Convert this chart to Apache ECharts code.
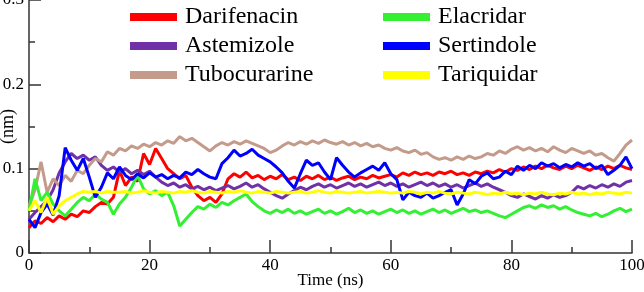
<!DOCTYPE html>
<html>
<head>
<meta charset="utf-8">
<script src="https://cdn.jsdelivr.net/npm/echarts@6/dist/echarts.min.js"></script>
<style>
  html, body { margin: 0; padding: 0; background: #fff; }
  #chart { width: 644px; height: 292px; }
</style>
</head>
<body>
<div id="chart"></div>
<script>
  // sample times, one every ns
  const timeNs = Array.from({ length: 101 }, (_, i) => i);

  const darifenacin = [
    0.030, 0.038, 0.035, 0.042, 0.037, 0.044, 0.040, 0.046, 0.043, 0.050,
    0.048, 0.055, 0.060, 0.058, 0.066, 0.098, 0.080, 0.090, 0.085, 0.118,
    0.105, 0.124, 0.112, 0.100, 0.094, 0.088, 0.092, 0.078, 0.068, 0.062,
    0.066, 0.060, 0.070, 0.088, 0.094, 0.090, 0.096, 0.089, 0.092, 0.087,
    0.091, 0.088, 0.093, 0.087, 0.090, 0.086, 0.091, 0.088, 0.092, 0.087,
    0.090, 0.086, 0.089, 0.091, 0.087, 0.090, 0.088, 0.092, 0.089, 0.091,
    0.093, 0.090, 0.095, 0.092, 0.096, 0.093, 0.095, 0.092, 0.096, 0.094,
    0.097, 0.093, 0.095, 0.092, 0.096, 0.094, 0.097, 0.095, 0.099, 0.096,
    0.100, 0.098, 0.102, 0.099, 0.103, 0.100, 0.104, 0.101, 0.099, 0.103,
    0.100, 0.104, 0.101, 0.098, 0.102, 0.099, 0.103, 0.100, 0.104, 0.101,
    0.099
  ];
  const astemizole = [
    0.040, 0.048, 0.055, 0.062, 0.075, 0.095, 0.108, 0.118, 0.112, 0.116,
    0.110, 0.114, 0.104, 0.098, 0.102, 0.096, 0.100, 0.094, 0.098, 0.093,
    0.097, 0.090, 0.084, 0.080, 0.083, 0.078, 0.081, 0.076, 0.079, 0.075,
    0.078, 0.074, 0.077, 0.080, 0.076, 0.079, 0.083, 0.078, 0.081, 0.076,
    0.072, 0.068, 0.065, 0.070, 0.074, 0.078, 0.075, 0.079, 0.082, 0.078,
    0.081, 0.077, 0.080, 0.083, 0.079, 0.082, 0.078, 0.081, 0.084, 0.080,
    0.083, 0.079, 0.082, 0.078, 0.081, 0.084, 0.080, 0.083, 0.079, 0.082,
    0.078, 0.081, 0.077, 0.080, 0.083, 0.079, 0.082, 0.078, 0.075, 0.072,
    0.068, 0.066, 0.070, 0.067, 0.064, 0.068, 0.065, 0.069, 0.066, 0.068,
    0.072, 0.079, 0.076, 0.080, 0.077, 0.081, 0.078, 0.082, 0.079, 0.084,
    0.086
  ];
  const tubocurarine = [
    0.055, 0.075, 0.108, 0.072, 0.088, 0.080, 0.092, 0.085, 0.098, 0.094,
    0.104, 0.112, 0.108, 0.120, 0.116, 0.124, 0.121, 0.127, 0.124, 0.129,
    0.126, 0.131, 0.128, 0.133, 0.130, 0.138, 0.133, 0.136, 0.131, 0.126,
    0.121, 0.127, 0.131, 0.128, 0.132, 0.129, 0.133, 0.130, 0.127, 0.124,
    0.119, 0.122, 0.127, 0.131, 0.128, 0.132, 0.129, 0.133, 0.130, 0.134,
    0.131, 0.129, 0.132, 0.128, 0.131, 0.127, 0.130, 0.126, 0.128, 0.124,
    0.122, 0.125, 0.121, 0.119, 0.122, 0.117, 0.119, 0.114, 0.111, 0.113,
    0.110, 0.114, 0.111, 0.115, 0.112, 0.114, 0.118, 0.116, 0.121, 0.118,
    0.123, 0.126, 0.122, 0.125, 0.121, 0.124, 0.120, 0.126, 0.122, 0.119,
    0.124, 0.121, 0.118, 0.121, 0.116, 0.118, 0.113, 0.109, 0.118, 0.128,
    0.134
  ];
  const elacridar = [
    0.050, 0.088, 0.062, 0.072, 0.058, 0.050, 0.044, 0.052, 0.060, 0.066,
    0.062, 0.070, 0.064, 0.060, 0.046, 0.058, 0.066, 0.078, 0.092, 0.076,
    0.070, 0.074, 0.068, 0.072, 0.056, 0.032, 0.040, 0.048, 0.055, 0.052,
    0.058, 0.054, 0.060, 0.057, 0.062, 0.066, 0.070, 0.061, 0.055, 0.050,
    0.047, 0.051, 0.048, 0.052, 0.047, 0.050, 0.046, 0.049, 0.052, 0.047,
    0.050, 0.046, 0.049, 0.053, 0.048, 0.051, 0.047, 0.050, 0.046, 0.049,
    0.052, 0.048, 0.051, 0.047, 0.050, 0.046, 0.049, 0.052, 0.048, 0.051,
    0.047, 0.050, 0.053, 0.049, 0.051, 0.048, 0.050, 0.047, 0.044, 0.042,
    0.046, 0.050, 0.054, 0.056, 0.053, 0.057, 0.054, 0.056, 0.052, 0.055,
    0.051, 0.048, 0.046, 0.044, 0.047, 0.043, 0.046, 0.050, 0.053, 0.049,
    0.052
  ];
  const sertindole = [
    0.040, 0.030, 0.048, 0.058, 0.045, 0.068, 0.125, 0.110, 0.098, 0.112,
    0.090, 0.066, 0.078, 0.095, 0.088, 0.102, 0.092, 0.087, 0.094, 0.089,
    0.095, 0.090, 0.093, 0.088, 0.092, 0.089, 0.096, 0.093, 0.099, 0.094,
    0.090, 0.088, 0.106, 0.113, 0.122, 0.115, 0.118, 0.123, 0.116, 0.112,
    0.108, 0.102, 0.095, 0.085, 0.077, 0.094, 0.110, 0.104, 0.107, 0.096,
    0.087, 0.113, 0.104, 0.096, 0.090, 0.095, 0.099, 0.103, 0.098, 0.107,
    0.094, 0.087, 0.063, 0.072, 0.068, 0.066, 0.071, 0.065, 0.068, 0.072,
    0.075, 0.057, 0.070, 0.087, 0.082, 0.091, 0.095, 0.088, 0.090, 0.097,
    0.093, 0.103, 0.098, 0.104, 0.100, 0.107, 0.103, 0.106, 0.101, 0.105,
    0.102, 0.107, 0.103, 0.106, 0.100, 0.104, 0.093, 0.098, 0.104, 0.114,
    0.100
  ];
  const tariquidar = [
    0.050, 0.062, 0.048, 0.066, 0.046, 0.056, 0.062, 0.066, 0.070, 0.073,
    0.072, 0.073, 0.071, 0.073, 0.072, 0.072, 0.073, 0.071, 0.072, 0.074,
    0.072, 0.071, 0.073, 0.072, 0.071, 0.073, 0.072, 0.074, 0.072, 0.071,
    0.073, 0.072, 0.071, 0.073, 0.072, 0.074, 0.072, 0.071, 0.073, 0.072,
    0.071, 0.073, 0.072, 0.071, 0.072, 0.073, 0.071, 0.072, 0.074, 0.072,
    0.071, 0.073, 0.072, 0.071, 0.072, 0.073, 0.071, 0.072, 0.073, 0.072,
    0.071, 0.072, 0.071, 0.073, 0.072, 0.070, 0.072, 0.071, 0.073, 0.071,
    0.070, 0.072, 0.071, 0.070, 0.072, 0.071, 0.069, 0.071, 0.070, 0.072,
    0.070, 0.071, 0.069, 0.071, 0.070, 0.072, 0.070, 0.069, 0.071, 0.070,
    0.072, 0.070, 0.071, 0.069, 0.071, 0.070, 0.072, 0.071, 0.070, 0.072,
    0.071
  ];

  const names = ['Darifenacin', 'Astemizole', 'Tubocurarine', 'Elacridar', 'Sertindole', 'Tariquidar'];
  const colors = ['#ff0000', '#7030a8', '#c49a8a', '#33f033', '#0000ff', '#ffff00'];
  const values = [darifenacin, astemizole, tubocurarine, elacridar, sertindole, tariquidar];

  const font = 'Liberation Serif';
  const axisColor = '#333';

  const series = names.map((name, k) => {
    return {
      name,
      type: 'line',
      symbol: 'none',
      color: colors[k],
      lineStyle: { width: 3, color: colors[k] },
      data: timeNs.map((t, i) => [t, values[k][i]]),
    };
  });

  const legendBase = {
    orient: 'vertical',
    padding: 0,
    itemWidth: 47,
    itemHeight: 8,
    itemGap: 5,
    icon: 'rect',
    formatter: '{n|{name}}',
    textStyle: {
      fontFamily: font,
      fontSize: 24,
      color: '#000',
      rich: { n: { fontFamily: font, fontSize: 24, color: '#000', padding: [0, 0, 0, 3] } },
    },
  };

  const myChart = echarts.init(document.getElementById('chart'));
  myChart.setOption({
    animation: false,
    backgroundColor: '#fff',
    textStyle: { fontFamily: font },
    grid: { left: 29, right: 12, top: 0, bottom: 39, containLabel: false, outerBoundsMode: 'none' },
    legend: [
      Object.assign({}, legendBase, { left: 130, top: 5, data: names.slice(0, 3) }),
      Object.assign({}, legendBase, { left: 383, top: 5, data: names.slice(3) }),
    ],
    xAxis: {
      type: 'value',
      min: 0,
      max: 100,
      interval: 20,
      name: 'Time (ns)',
      nameLocation: 'middle',
      nameGap: 19,
      nameMoveOverlap: false,
      nameTextStyle: { fontFamily: font, fontSize: 17, color: '#000' },
      axisLine: { lineStyle: { color: axisColor, width: 1.5 } },
      axisTick: { inside: true, length: 13, lineStyle: { color: axisColor, width: 1.5 } },
      minorTick: { show: true, splitNumber: 2, length: 6, lineStyle: { color: axisColor, width: 1.5 } },
      axisLabel: { fontFamily: font, fontSize: 17, color: '#000', margin: 4 },
      splitLine: { show: false },
    },
    yAxis: {
      type: 'value',
      min: 0,
      max: 0.3,
      interval: 0.1,
      name: '(nm)',
      nameLocation: 'middle',
      nameGap: 12,
      nameMoveOverlap: false,
      nameTextStyle: { fontFamily: font, fontSize: 18, color: '#000' },
      axisLine: { show: true, lineStyle: { color: axisColor, width: 1.5 } },
      axisTick: { show: true, inside: true, length: 12, lineStyle: { color: axisColor, width: 1.5 } },
      minorTick: { show: true, splitNumber: 2, length: 6, lineStyle: { color: axisColor, width: 1.5 } },
      axisLabel: { fontFamily: font, fontSize: 17, color: '#000', margin: 5 },
      splitLine: { show: false },
    },
    series,
  });
</script>
</body>
</html>
